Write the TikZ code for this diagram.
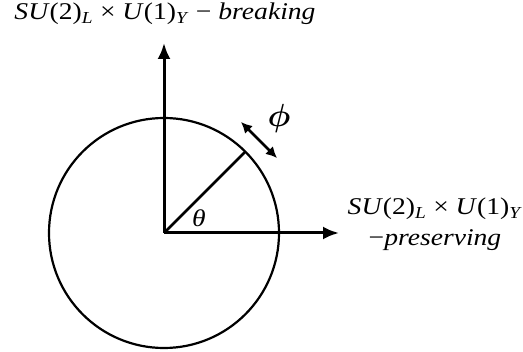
\documentclass[tikz,border=0pt]{standalone}
\usepackage{graphicx}
\usepackage{fontspec}
\setmainfont[FakeStretch=1.15]{Liberation Serif}
\usetikzlibrary{arrows.meta}
\newcommand{\sbi}[1]{\textsubscript{\textit{#1}}}
\begin{document}
\begin{tikzpicture}[x=1pt,y=-1pt,
  axis/.style={line width=3pt,-{Latex[length=16pt,width=13pt]}},
  lbl/.style={inner sep=0pt, anchor=base, font=\fontsize{24}{30}\selectfont},
  ]
\useasboundingbox (0,0) rectangle (523,352);
\coordinate (O) at (164,233);
\coordinate (Top) at (164,43);
\coordinate (Right) at (339,233);
\coordinate (R) at (245.5,151.5);
\coordinate (PA) at (241,122);
\coordinate (PB) at (277,158);
\draw[line width=2.2pt] (O) circle (115);
\draw[axis] (O) -- (Top);
\draw[axis] (O) -- (Right);
\draw[line width=2.8pt] (O) -- (R);
\draw[line width=2.6pt,{Latex[length=11pt,width=11pt]}-{Latex[length=11pt,width=11pt]}] (PA) -- (PB);
\node[inner sep=0pt] (phi) at (279,119) {\scalebox{3.2}{\boldmath$\phi$}};
\node[lbl] (theta) at (199,227) {\textit{θ}};
\node[lbl] (toplbl) at (165,20) {\textit{SU}(2)\sbi{L} × \textit{U}(1)\sbi{Y} − \textit{breaking}};
\node[lbl] (rightlbl1) at (435,215) {\textit{SU}(2)\sbi{L} × \textit{U}(1)\sbi{Y}};
\node[lbl] (rightlbl2) at (435,246) {−\textit{preserving}};
\end{tikzpicture}
\end{document}
